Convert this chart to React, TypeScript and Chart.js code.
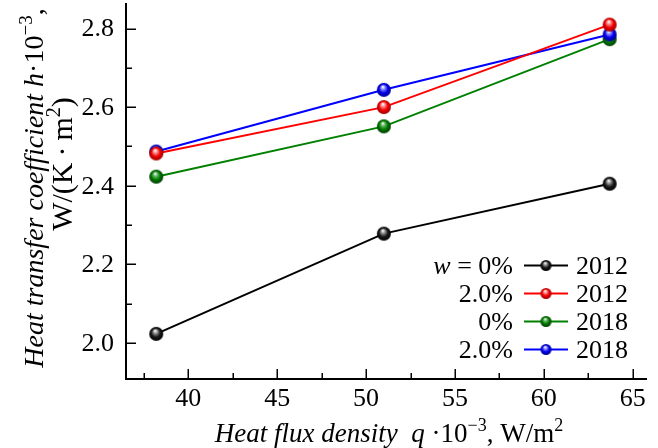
import React, { useEffect, useRef } from "react";
import { Chart, registerables } from "chart.js";

Chart.register(...registerables);

// Heat flux density q·10^-3, W/m^2
const heatFlux = [38.2, 51.0, 63.7];
// Heat transfer coefficient h·10^-3, W/(K·m^2)
const hW0y2012 = [2.023, 2.278, 2.405];
const hW2y2012 = [2.482, 2.6, 2.81];
const hW0y2018 = [2.423, 2.551, 2.773];
const hW2y2018 = [2.487, 2.644, 2.785];

const xTicks = [40, 45, 50, 55, 60, 65];
const xMinorTicks = [37.5, 42.5, 47.5, 52.5, 57.5, 62.5];
const yTicks = [2.0, 2.2, 2.4, 2.6, 2.8];
const yMinorTicks = [2.1, 2.3, 2.5, 2.7];

const legendShares = ["0%", "2.0%", "0%", "2.0%"];
const legendYears = ["2012", "2012", "2018", "2018"];

const FONT = '"Liberation Serif"';
const TICK_SIZE = 26;
const TITLE_SIZE = 27;

type Seg = { t: string; it?: boolean; sup?: boolean };

function drawRich(
  ctx: CanvasRenderingContext2D,
  segs: Seg[],
  x: number,
  y: number,
  size: number,
  align: "left" | "center" | "right"
) {
  const fontOf = (s: Seg) =>
    `${s.it ? "italic " : ""}${s.sup ? Math.round(size * 0.68) : size}px ${FONT}`;
  let total = 0;
  const widths = segs.map((s) => {
    ctx.font = fontOf(s);
    const w = ctx.measureText(s.t).width;
    total += w;
    return w;
  });
  let cx = align === "center" ? x - total / 2 : align === "right" ? x - total : x;
  ctx.textAlign = "left";
  ctx.textBaseline = "alphabetic";
  segs.forEach((s, i) => {
    ctx.font = fontOf(s);
    ctx.fillText(s.t, cx, s.sup ? y - size * 0.4 : y);
    cx += widths[i];
  });
}

function sphere(base: string, light: string, dark: string, r: number) {
  const d = Math.ceil(r * 2 + 2);
  const c = document.createElement("canvas");
  c.width = d;
  c.height = d;
  const g = c.getContext("2d")!;
  const m = d / 2;
  const grad = g.createRadialGradient(m - r * 0.15, m - r * 0.45, r * 0.05, m, m, r);
  grad.addColorStop(0, "#ffffff");
  grad.addColorStop(0.22, light);
  grad.addColorStop(0.6, base);
  grad.addColorStop(1, dark);
  g.fillStyle = grad;
  g.beginPath();
  g.arc(m, m, r, 0, Math.PI * 2);
  g.fill();
  return c;
}

const palette = [
  { line: "#000000", base: "#1a1a1a", light: "#a0a0a0", dark: "#000000" },
  { line: "#ff0000", base: "#f00000", light: "#ff9a9a", dark: "#a00000" },
  { line: "#008000", base: "#007a00", light: "#70c070", dark: "#003a00" },
  { line: "#0000ff", base: "#0000f0", light: "#9a9aff", dark: "#000090" },
];

export default function App() {
  const ref = useRef<HTMLCanvasElement>(null);

  useEffect(() => {
    const canvas = ref.current;
    if (!canvas) return;
    let chart: Chart | null = null;
    let cancelled = false;

    const build = () => {
      if (cancelled) return;
      const bigSpheres = palette.map((p) => sphere(p.base, p.light, p.dark, 7));
      const smallSpheres = palette.map((p) => sphere(p.base, p.light, p.dark, 5.5));
      const series = [hW0y2012, hW2y2012, hW0y2018, hW2y2018];
      const drawOrder = [3, 0, 2, 1];

      const axesAndText = {
        id: "axesAndText",
        afterDraw(c: any) {
          const ctx: CanvasRenderingContext2D = c.ctx;
          const xs = c.scales.x;
          const ys = c.scales.y;
          const { left, right, top, bottom } = c.chartArea;
          ctx.save();
          ctx.strokeStyle = "#000";
          ctx.fillStyle = "#000";
          ctx.lineWidth = 2;
          ctx.beginPath();
          ctx.moveTo(left, top);
          ctx.lineTo(left, bottom);
          ctx.lineTo(right, bottom);
          ctx.stroke();

          ctx.lineWidth = 1.5;
          ctx.beginPath();
          xTicks.forEach((v) => {
            const px = Math.round(xs.getPixelForValue(v)) + 0.25;
            ctx.moveTo(px, bottom);
            ctx.lineTo(px, bottom - 10);
          });
          xMinorTicks.forEach((v) => {
            const px = Math.round(xs.getPixelForValue(v)) + 0.25;
            ctx.moveTo(px, bottom);
            ctx.lineTo(px, bottom - 6);
          });
          yTicks.forEach((v) => {
            const py = Math.round(ys.getPixelForValue(v)) + 0.25;
            ctx.moveTo(left, py);
            ctx.lineTo(left + 10, py);
          });
          yMinorTicks.forEach((v) => {
            const py = Math.round(ys.getPixelForValue(v)) + 0.25;
            ctx.moveTo(left, py);
            ctx.lineTo(left + 6, py);
          });
          ctx.stroke();

          // y tick labels
          ctx.font = `${TICK_SIZE}px ${FONT}`;
          ctx.textAlign = "right";
          ctx.textBaseline = "middle";
          yTicks.forEach((v) => {
            ctx.fillText(v.toFixed(1), left - 12, ys.getPixelForValue(v) + 1);
          });

          // x-axis title
          drawRich(
            ctx,
            [
              { t: "Heat flux density  q", it: true },
              { t: " \u00b710" },
              { t: "\u22123", sup: true },
              { t: ", W/m" },
              { t: "2", sup: true },
            ],
            389,
            442,
            TITLE_SIZE,
            "center"
          );

          // y-axis title, two rotated lines
          ctx.save();
          ctx.translate(43, 188);
          ctx.rotate(-Math.PI / 2);
          drawRich(
            ctx,
            [
              { t: "Heat transfer coefficient h", it: true },
              { t: "\u00b710" },
              { t: "\u22123", sup: true },
              { t: "," },
            ],
            0,
            0,
            28,
            "center"
          );
          ctx.restore();
          ctx.save();
          ctx.translate(72, 164);
          ctx.rotate(-Math.PI / 2);
          drawRich(
            ctx,
            [{ t: "W/(K\u2009\u00b7\u2009m" }, { t: "2", sup: true }, { t: ")" }],
            0,
            0,
            30,
            "center"
          );
          ctx.restore();

          // legend
          const rowY = [265.5, 293.5, 321.5, 349.5];
          rowY.forEach((cy, i) => {
            const base = cy + 8.5;
            ctx.fillStyle = "#000";
            if (i === 0) {
              drawRich(ctx, [{ t: "w", it: true }, { t: " = " + legendShares[i] }], 513, base, TICK_SIZE, "right");
            } else {
              drawRich(ctx, [{ t: legendShares[i] }], 513, base, TICK_SIZE, "right");
            }
            ctx.strokeStyle = palette[i].line;
            ctx.lineWidth = 2;
            ctx.beginPath();
            ctx.moveTo(524, cy);
            ctx.lineTo(568, cy);
            ctx.stroke();
            const s = smallSpheres[i];
            ctx.drawImage(s, 546 - s.width / 2, cy - s.height / 2);
            ctx.fillStyle = "#000";
            drawRich(ctx, [{ t: legendYears[i] }], 576, base, TICK_SIZE, "left");
          });
          ctx.restore();
        },
      };

      chart = new Chart(canvas, {
        type: "line",
        data: {
          datasets: series.map((vals, i) => ({
            label: `${legendShares[i]} ${legendYears[i]}`,
            data: heatFlux.map((x, k) => ({ x, y: vals[k] })),
            borderColor: palette[i].line,
            borderWidth: 2,
            pointStyle: bigSpheres[i] as any,
            pointRadius: 7,
            tension: 0,
            order: drawOrder[i],
            clip: false as any,
          })),
        },
        options: {
          responsive: false,
          animation: false,
          events: [],
          layout: { autoPadding: false, padding: { left: 0, top: 3, right: 11, bottom: 0 } },
          plugins: {
            legend: { display: false },
            tooltip: { enabled: false },
            title: { display: false },
          },
          scales: {
            x: {
              type: "linear",
              min: 36.5,
              max: 65.8,
              grid: { display: false, drawTicks: false },
              border: { display: false },
              afterBuildTicks: (scale: any) => {
                scale.ticks = xTicks.map((v) => ({ value: v }));
              },
              afterFit: (scale: any) => {
                scale.height = 69;
                scale.paddingLeft = 0;
                scale.paddingRight = 0;
              },
              ticks: {
                padding: 5,
                color: "#000",
                font: { family: FONT, size: TICK_SIZE },
                callback: (v: any) => String(v),
              },
            },
            y: {
              type: "linear",
              min: 1.908,
              max: 2.865,
              grid: { display: false, drawTicks: false },
              border: { display: false },
              ticks: { display: false },
              afterFit: (scale: any) => {
                scale.width = 126;
              },
            },
          },
        },
        plugins: [axesAndText],
      });
    };

    const fonts: any = (document as any).fonts;
    if (fonts && fonts.load) {
      Promise.all([
        fonts.load(`${TICK_SIZE}px ${FONT}`),
        fonts.load(`italic ${TICK_SIZE}px ${FONT}`),
      ])
        .catch(() => null)
        .then(build);
    } else {
      build();
    }

    return () => {
      cancelled = true;
      if (chart) chart.destroy();
    };
  }, []);

  return (
    <div style={{ position: "fixed", left: 0, top: 0, width: 658, height: 448, background: "#fff" }}>
      <canvas ref={ref} width={658} height={448} style={{ display: "block" }} />
    </div>
  );
}
